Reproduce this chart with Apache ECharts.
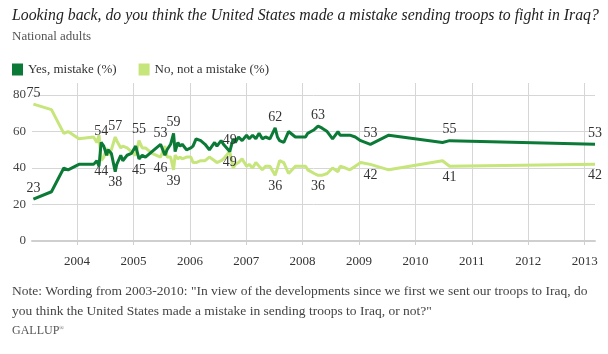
<!DOCTYPE html>
<html>
<head>
<meta charset="utf-8">
<script src="https://cdn.jsdelivr.net/npm/echarts@6.0.0/dist/echarts.min.js"></script>
<style>
  html, body { margin: 0; padding: 0; background: #fff; }
  #chart { width: 608px; height: 354px; }
</style>
</head>
<body>
<div id="chart"></div>
<script>
// Gallup poll dates (approximate field dates)
const dates = [
  '2003-03-24', '2003-07-19', '2003-10-07', '2003-11-04',
  '2004-01-13', '2004-04-17', '2004-05-08', '2004-05-22', '2004-06-05', '2004-06-22', '2004-07-10', '2004-07-20',
  '2004-08-10', '2004-09-04', '2004-09-14', '2004-09-25', '2004-10-10', '2004-10-23', '2004-11-20', '2004-12-18',
  '2005-01-15', '2005-02-05', '2005-02-26', '2005-03-19', '2005-04-30', '2005-06-25', '2005-07-23', '2005-08-06',
  '2005-08-29', '2005-09-17', '2005-09-27', '2005-10-15', '2005-10-29', '2005-11-12', '2005-12-10',
  '2006-01-07', '2006-01-21', '2006-02-10', '2006-03-12', '2006-04-09', '2006-05-07', '2006-06-10', '2006-06-25',
  '2006-07-22', '2006-08-06', '2006-09-16', '2006-10-08', '2006-10-22', '2006-11-12', '2006-12-05',
  '2007-01-03', '2007-01-20', '2007-02-11', '2007-03-04', '2007-03-25', '2007-04-15', '2007-05-06', '2007-06-03',
  '2007-07-07', '2007-07-22', '2007-08-05', '2007-09-01', '2007-10-02', '2007-11-15', '2007-12-16',
  '2008-01-20', '2008-02-03', '2008-02-24', '2008-03-16', '2008-04-10', '2008-05-04', '2008-06-08', '2008-07-13',
  '2008-08-17', '2008-08-31', '2008-10-05', '2008-11-02', '2008-12-07',
  '2009-01-11', '2009-03-15', '2009-07-12',
  '2010-06-25', '2010-08-10',
  '2013-03-09'
];

const yesMistake = [
  23, 27, 40, 39,
  42, 42, 44, 41, 54, 52, 47, 50, 48, 38, 42, 42, 47, 44, 47, 48,
  52, 45, 47, 46, 49, 53, 47, 50, 53, 59, 49, 54, 52, 53, 50,
  51, 52, 56, 55, 53, 50, 54, 52, 55, 53, 49, 56, 54, 57, 55,
  58, 56, 58, 56, 59, 56, 57, 56, 62, 57, 55, 54, 60, 57, 57,
  57, 59, 60, 61, 63, 62, 60, 56, 60, 58, 58, 58, 57,
  55, 53, 58,
  54, 55,
  53
];

const notMistake = [
  75, 72, 59, 60,
  56, 57, 54, 58, 44, 46, 51, 47, 50, 57, 55, 54, 51, 52, 51, 49,
  47, 55, 51, 51, 48, 46, 52, 46, 46, 39, 47, 45, 46, 45, 46,
  46, 43, 43, 44, 44, 46, 44, 43, 44, 45, 49, 40, 42, 43, 45,
  41, 42, 40, 43, 41, 39, 41, 41, 36, 40, 44, 43, 37, 41, 41,
  41, 39, 38, 37, 36, 36, 37, 40, 38, 41, 40, 39, 41,
  43, 42, 39,
  44, 41,
  42
];

// polls whose values are printed on the chart
const labelledDates = [
  '2003-03-24', '2004-06-05', '2004-09-04', '2005-02-05', '2005-06-25', '2005-09-17',
  '2006-09-16', '2007-07-07', '2008-04-10', '2009-03-15', '2010-08-10', '2013-03-09'
];

const yTicks = [0, 20, 40, 60, 80];

const serif = '"Liberation Serif", "DejaVu Serif", serif';
const darkGreen = '#0b7a36';
const lightGreen = '#c6e57a';

function buildPoints(values, other, isYes) {
  return dates.map((d, i) => {
    const point = { value: [d, values[i]] };
    if (labelledDates.includes(d)) {
      const above = i === 0 || values[i] > other[i] || (values[i] === other[i] && isYes);
      point.label = { show: true, position: above ? 'top' : 'bottom' };
    }
    return point;
  });
}

const chart = echarts.init(document.getElementById('chart'));

const lineLabel = {
  show: false,
  fontFamily: serif,
  fontSize: 14,
  color: '#333',
  distance: 4,
  formatter: p => p.value[1]
};

const option = {
  animation: false,
  title: [
    {
      text: 'Looking back, do you think the United States made a mistake sending troops to fight in Iraq?',
      left: 12, top: 8, padding: 0,
      textStyle: { fontFamily: serif, fontStyle: 'italic', fontWeight: 'normal', fontSize: 15.8, color: '#222' }
    },
    {
      text: 'National adults',
      left: 12, top: 30, padding: 0,
      textStyle: { fontFamily: serif, fontWeight: 'normal', fontSize: 13, color: '#555' }
    },
    {
      text: 'Note: Wording from 2003-2010: "In view of the developments since we first we sent our troops to Iraq, do\nyou think the United States made a mistake in sending troops to Iraq, or not?"',
      left: 12, top: 281, padding: 0,
      textStyle: { fontFamily: serif, fontWeight: 'normal', fontSize: 13.5, lineHeight: 20, color: '#444' }
    },
    {
      text: 'GALLUP{r|\u00AE}',
      left: 12, top: 325, padding: 0,
      textStyle: {
        fontFamily: serif, fontWeight: 'normal', fontSize: 12, color: '#555',
        rich: { r: { fontFamily: serif, fontSize: 6, color: '#555', verticalAlign: 'top', padding: [0, 0, 6, 0] } }
      }
    }
  ],
  legend: {
    data: ['Yes, mistake (%)', 'No, not a mistake (%)'],
    left: 12, top: 63, padding: 0,
    icon: 'rect',
    itemWidth: 11, itemHeight: 12,
    itemGap: 22,
    textStyle: { fontFamily: serif, fontSize: 13, color: '#333' }
  },
  grid: { left: 32, right: 13, top: 83, bottom: 113, containLabel: false },
  xAxis: {
    type: 'time',
    min: '2003-03-15',
    max: '2013-03-09',
    minInterval: 365 * 24 * 3600 * 1000,
    maxInterval: 366 * 24 * 3600 * 1000,
    axisLine: { show: true, lineStyle: { color: '#cfcfcf', width: 2 } },
    axisTick: { show: true, length: 4, lineStyle: { color: '#cfcfcf' } },
    axisLabel: {
      formatter: '{yyyy}',
      showMinLabel: false, showMaxLabel: false,
      margin: 14,
      fontFamily: serif, fontSize: 13, color: '#333'
    },
    splitLine: { show: true, showMinLine: false, showMaxLine: false, lineStyle: { color: '#d6d6d6', width: 1 } }
  },
  yAxis: {
    type: 'value',
    min: 0,
    max: 86.6,
    interval: 20,
    axisLine: { show: false },
    axisTick: { show: false },
    axisLabel: {
      showMaxLabel: false,
      margin: 6,
      fontFamily: serif, fontSize: 13, color: '#444',
      formatter: v => (yTicks.includes(v) ? String(v) : '')
    },
    splitLine: { show: true, showMaxLine: false, lineStyle: { color: '#d6d6d6', width: 1 } }
  },
  series: [
    {
      name: 'Yes, mistake (%)',
      type: 'line',
      z: 3,
      showSymbol: true,
      showAllSymbol: true,
      symbol: 'circle',
      symbolSize: 0,
      color: darkGreen,
      lineStyle: { width: 3, color: darkGreen },
      label: lineLabel,
      labelLayout: { hideOverlap: false },
      data: buildPoints(yesMistake, notMistake, true)
    },
    {
      name: 'No, not a mistake (%)',
      type: 'line',
      z: 2,
      showSymbol: true,
      showAllSymbol: true,
      symbol: 'circle',
      symbolSize: 0,
      color: lightGreen,
      lineStyle: { width: 3, color: lightGreen },
      label: lineLabel,
      labelLayout: { hideOverlap: false },
      data: buildPoints(notMistake, yesMistake, false)
    }
  ]
};

chart.setOption(option);
window.addEventListener('resize', () => chart.resize());
</script>
</body>
</html>
